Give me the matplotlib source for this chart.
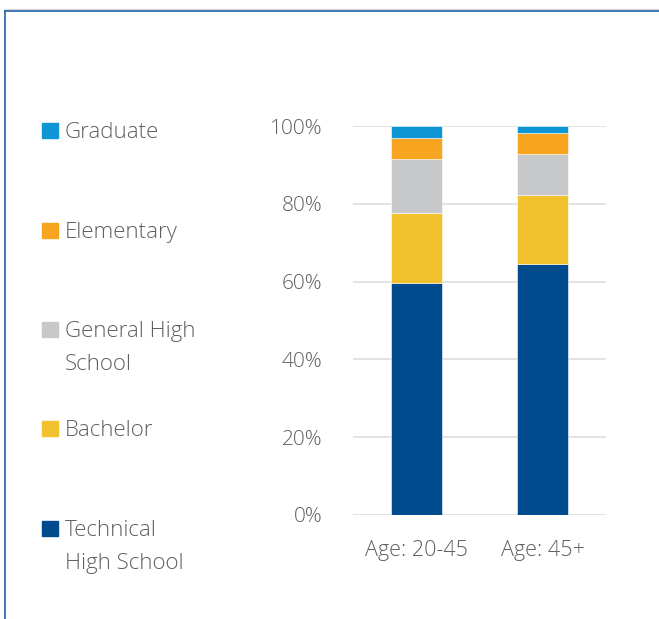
import matplotlib
matplotlib.use("Agg")
from matplotlib import pyplot as plt
from matplotlib.lines import Line2D
from matplotlib.patches import Rectangle
from matplotlib.ticker import PercentFormatter

# data (shares of each age group, %)
groups = ["Age: 20-45", "Age: 45+"]
categories = ["Technical\nHigh School", "Bachelor", "General High\nSchool", "Elementary", "Graduate"]
colors = ["#004b8d", "#f2c12e", "#c7c8c9", "#f7a520", "#0e95d3"]
technical = [59.7, 64.5]
bachelor = [17.9, 17.8]
general = [13.8, 10.5]
elementary = [5.4, 5.3]
graduate = [3.2, 1.9]
series = [technical, bachelor, general, elementary, graduate]

plt.rcParams["font.family"] = ["Open Sans", "DejaVu Sans"]
text_color = "#5f5f5f"

fig = plt.figure(figsize=(6.59, 6.19), dpi=100)
ax = fig.add_axes([353 / 659, 1 - 515 / 619, 253 / 659, 389 / 619])

bottom = [0, 0]
for values, color in zip(series, colors):
    ax.bar(range(len(groups)), values, 0.4, bottom=bottom, color=color,
           edgecolor="white", linewidth=0.4, zorder=3)
    bottom = [b + v for b, v in zip(bottom, values)]

ax.set_xlim(-0.5, 1.5)
ax.set_ylim(0, 100)
ax.set_yticks([0, 20, 40, 60, 80, 100])
ax.yaxis.set_major_formatter(PercentFormatter(decimals=0))
ax.set_xticks(range(len(groups)))
ax.set_xticklabels(groups)
ax.tick_params(axis="y", length=0, pad=22, labelsize=15, labelcolor=text_color)
ax.tick_params(axis="x", length=0, pad=18, labelsize=15.5, labelcolor=text_color)
for lab in ax.get_xticklabels() + ax.get_yticklabels():
    lab.set_fontweight("light")
ax.grid(axis="y", color="#e0e0e0", linewidth=1.3, zorder=0)
for side in ax.spines:
    ax.spines[side].set_visible(False)

# legend drawn by hand, top entry first
legend_y = [130, 230, 329, 428, 528]
for i, (label, color) in enumerate(zip(categories[::-1], colors[::-1])):
    y = legend_y[i]
    fig.add_artist(Rectangle((42 / 659, 1 - (y + 8) / 619), 15.5 / 659, 15.5 / 619,
                             transform=fig.transFigure, color=color))
    fig.text(65 / 659, 1 - (y - 8) / 619, label, fontsize=16, color=text_color,
             va="top", ha="left", fontweight="light", linespacing=1.75)

# frame lines of the surrounding panel
fig.add_artist(Line2D([4.5 / 659, 1], [1 - 9 / 619, 1 - 9 / 619], color="#d8d8d8",
                      linewidth=1, transform=fig.transFigure))
fig.add_artist(Line2D([4.5 / 659, 1], [1 - 10.5 / 619, 1 - 10.5 / 619], color="#2f6db0",
                      linewidth=1.3, transform=fig.transFigure))
fig.add_artist(Line2D([4.5 / 659, 4.5 / 659], [0, 1 - 10.5 / 619], color="#2f6db0",
                      linewidth=1.3, transform=fig.transFigure))

fig.savefig("out.png", dpi=100)
